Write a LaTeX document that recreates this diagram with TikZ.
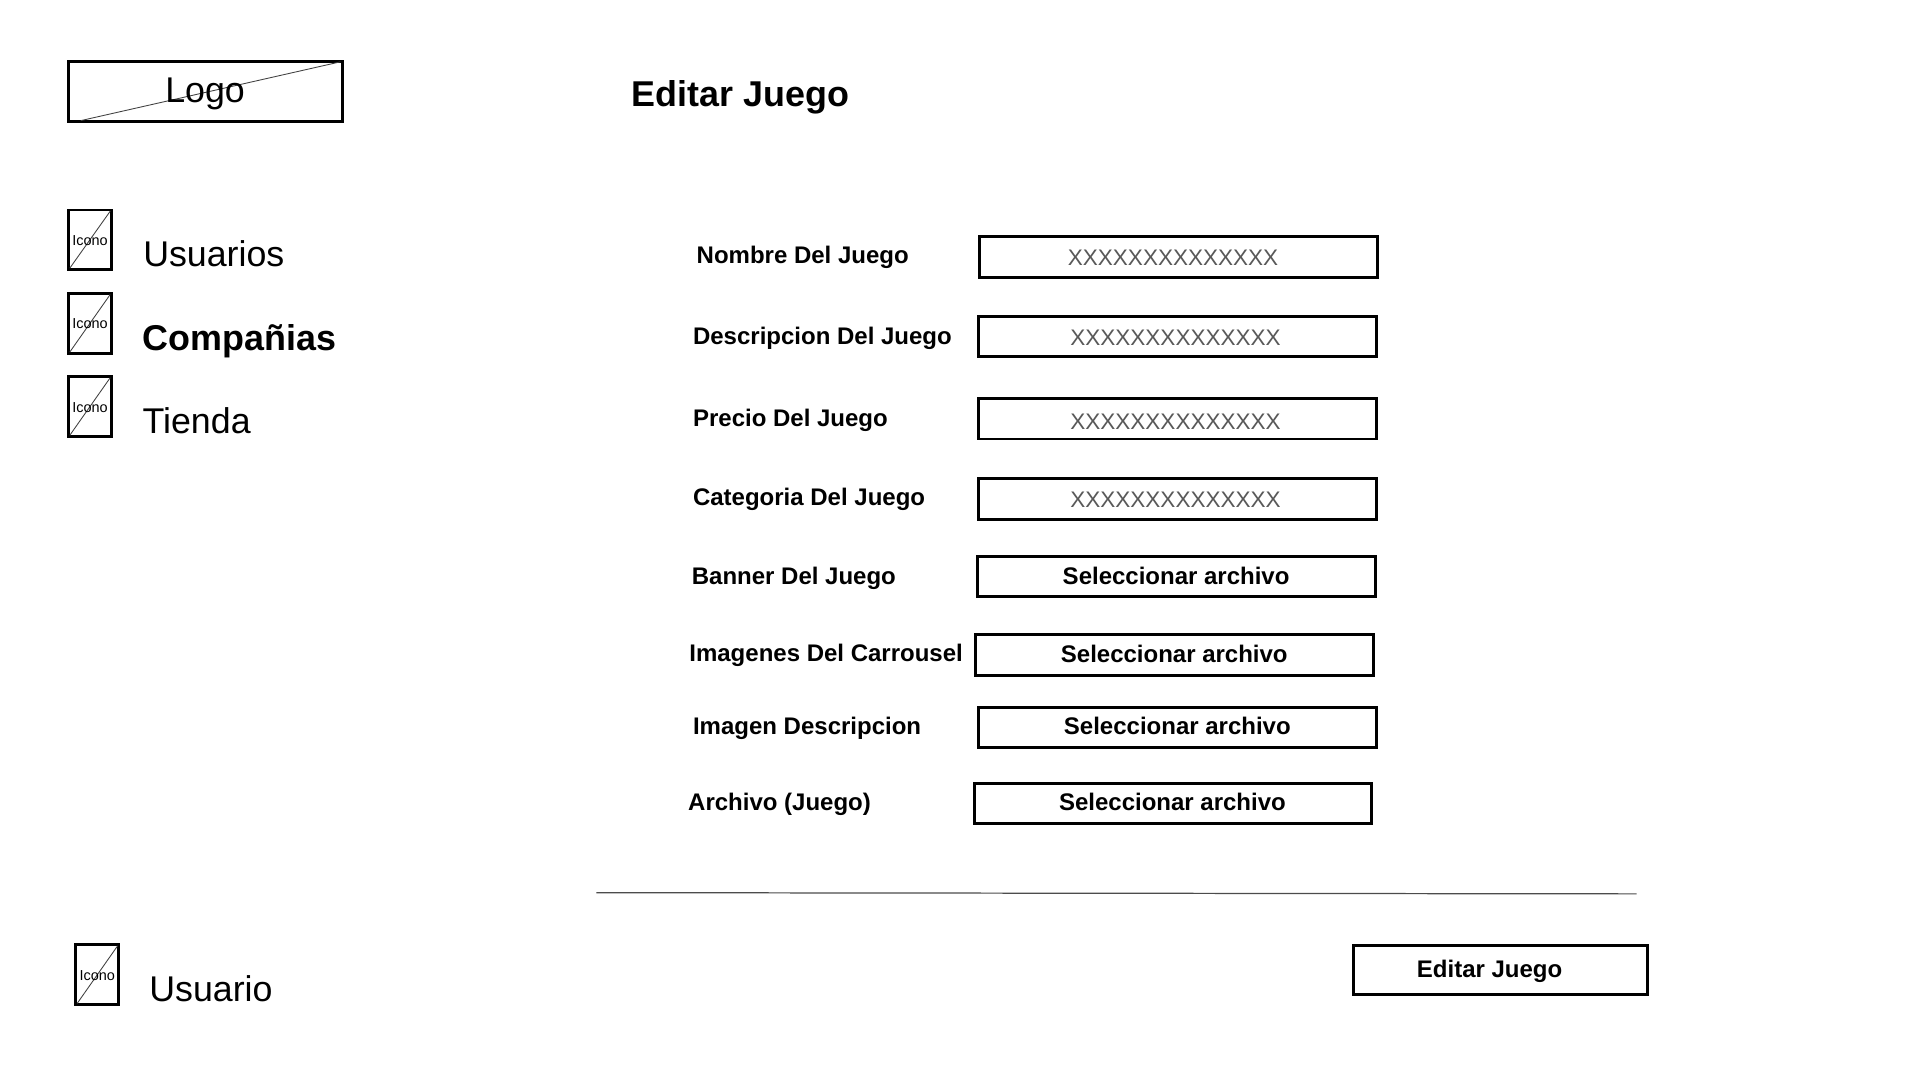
\documentclass[tikz,border=0pt]{standalone}
\usepackage{fontspec}
\setmainfont{Liberation Sans}
\newcommand{\fsz}[1]{\fontsize{#1pt}{#1pt}\selectfont}
\tikzset{
  x=1pt,y=-1pt,
  wire/.style={draw=black,line width=2.4pt,fill=none},
  diag/.style={draw=black!75,line width=0.7pt},
  txt/.style={inner sep=0pt,outer sep=0pt,anchor=base west,text=black},
  navlabel/.style={txt,font=\fsz{29.2}},
  navbold/.style={txt,font=\fsz{29.3}\bfseries},
  icontext/.style={inner sep=0pt,anchor=base,font=\fsz{11.8}},
  flabel/.style={txt,font=\fsz{19.6}\bfseries},
  ph/.style={inner sep=0pt,anchor=base,font=\fsz{18.4},text=black!65},
  btn/.style={inner sep=0pt,anchor=base,font=\fsz{19.6}\bfseries}
}
\newcommand{\iconbox}[4]{% name, x, top, bottom
  \coordinate (#1a) at (#2,#3);
  \coordinate (#1b) at (#2+35,#4);
  \draw[wire] (#1a) rectangle (#1b);
  \coordinate (#1c) at (#2+35-1,#3+1);
  \coordinate (#1d) at (#2+1,#4-1);
  \draw[diag] (#1d) -- (#1c);
  \node[icontext] (#1t) at (#2+17.5,#3+29) {Icono};
}
\newcommand{\fieldbox}[5]{% name, x0, x1, y0, y1
  \coordinate (#1a) at (#2,#4);
  \coordinate (#1b) at (#3,#5);
  \draw[wire] (#1a) rectangle (#1b);
}
\begin{document}
\begin{tikzpicture}
\useasboundingbox[fill=white] (0,0) rectangle (1568,882);
% logo
\coordinate (la) at (56,50);
\coordinate (lb) at (279.5,99.5);
\draw[wire] (la) rectangle (lb);
\coordinate (ld1) at (66,98.5);
\coordinate (ld2) at (278,50.5);
\draw[diag] (ld1) -- (ld2);
\node[txt,font=\fsz{29.2}] (logo) at (135,83.5) {Logo};
% title
\node[txt,font=\fsz{29.3}\bfseries] (title) at (516,87) {Editar Juego};
% nav
\iconbox{i1}{56}{171.5}{220}
\iconbox{i2}{56}{239.5}{288.5}
\iconbox{i3}{56}{307.5}{356.5}
\iconbox{i4}{62}{771.5}{820.5}
\node[navlabel] (usuarios) at (117,218) {Usuarios};
\node[navbold] (companias) at (116.5,286) {Compañias};
\node[navlabel] (tienda) at (116.5,354) {Tienda};
\node[navlabel] (usuario) at (122,818) {Usuario};
% labels
\node[flabel] (l1) at (569,215.5) {Nombre Del Juego};
\node[flabel] (l2) at (566,281) {Descripcion Del Juego};
\node[flabel] (l3) at (566,348) {Precio Del Juego};
\node[flabel] (l4) at (566,413) {Categoria Del Juego};
\node[flabel] (l5) at (565,477) {Banner Del Juego};
\node[flabel] (l6) at (563,540.5) {Imagenes Del Carrousel};
\node[flabel] (l7) at (566,599.5) {Imagen Descripcion};
\node[flabel] (l8) at (562,661.5) {Archivo (Juego)};
% boxes
\fieldbox{b1}{800}{1125}{193.5}{226.5}
\fieldbox{b2}{799}{1124}{258.5}{291.5}
\fieldbox{b3}{799}{1124}{325.5}{358.5}
\fieldbox{b4}{799}{1124}{391}{424}
\fieldbox{b5}{798}{1123}{454.5}{487.5}
\fieldbox{b6}{796.5}{1121.5}{518.5}{551.5}
\fieldbox{b7}{799}{1124}{577.5}{610.5}
\fieldbox{b8}{795.5}{1120}{639.5}{672.5}
\node[ph] (p1) at (958,216.5) {XXXXXXXXXXXXXX};
\node[ph] (p2) at (960,282) {XXXXXXXXXXXXXX};
\node[ph] (p3) at (960,350.5) {XXXXXXXXXXXXXX};
\node[ph] (p4) at (960,414.5) {XXXXXXXXXXXXXX};
\node[btn] (s1) at (960.5,477) {Seleccionar archivo};
\node[btn] (s2) at (959,541) {Seleccionar archivo};
\node[btn] (s3) at (961.5,599.5) {Seleccionar archivo};
\node[btn] (s4) at (957.5,661.5) {Seleccionar archivo};
% divider
\coordinate (dv1) at (487,729);
\coordinate (dv2) at (1336.5,730);
\draw[draw=black!70,line width=1pt] (dv1) -- (dv2);
% action button
\coordinate (ea) at (1105,772);
\coordinate (eb) at (1345.5,812);
\draw[wire] (ea) rectangle (eb);
\node[btn] (edit) at (1216.5,798) {Editar Juego};
\end{tikzpicture}
\end{document}
